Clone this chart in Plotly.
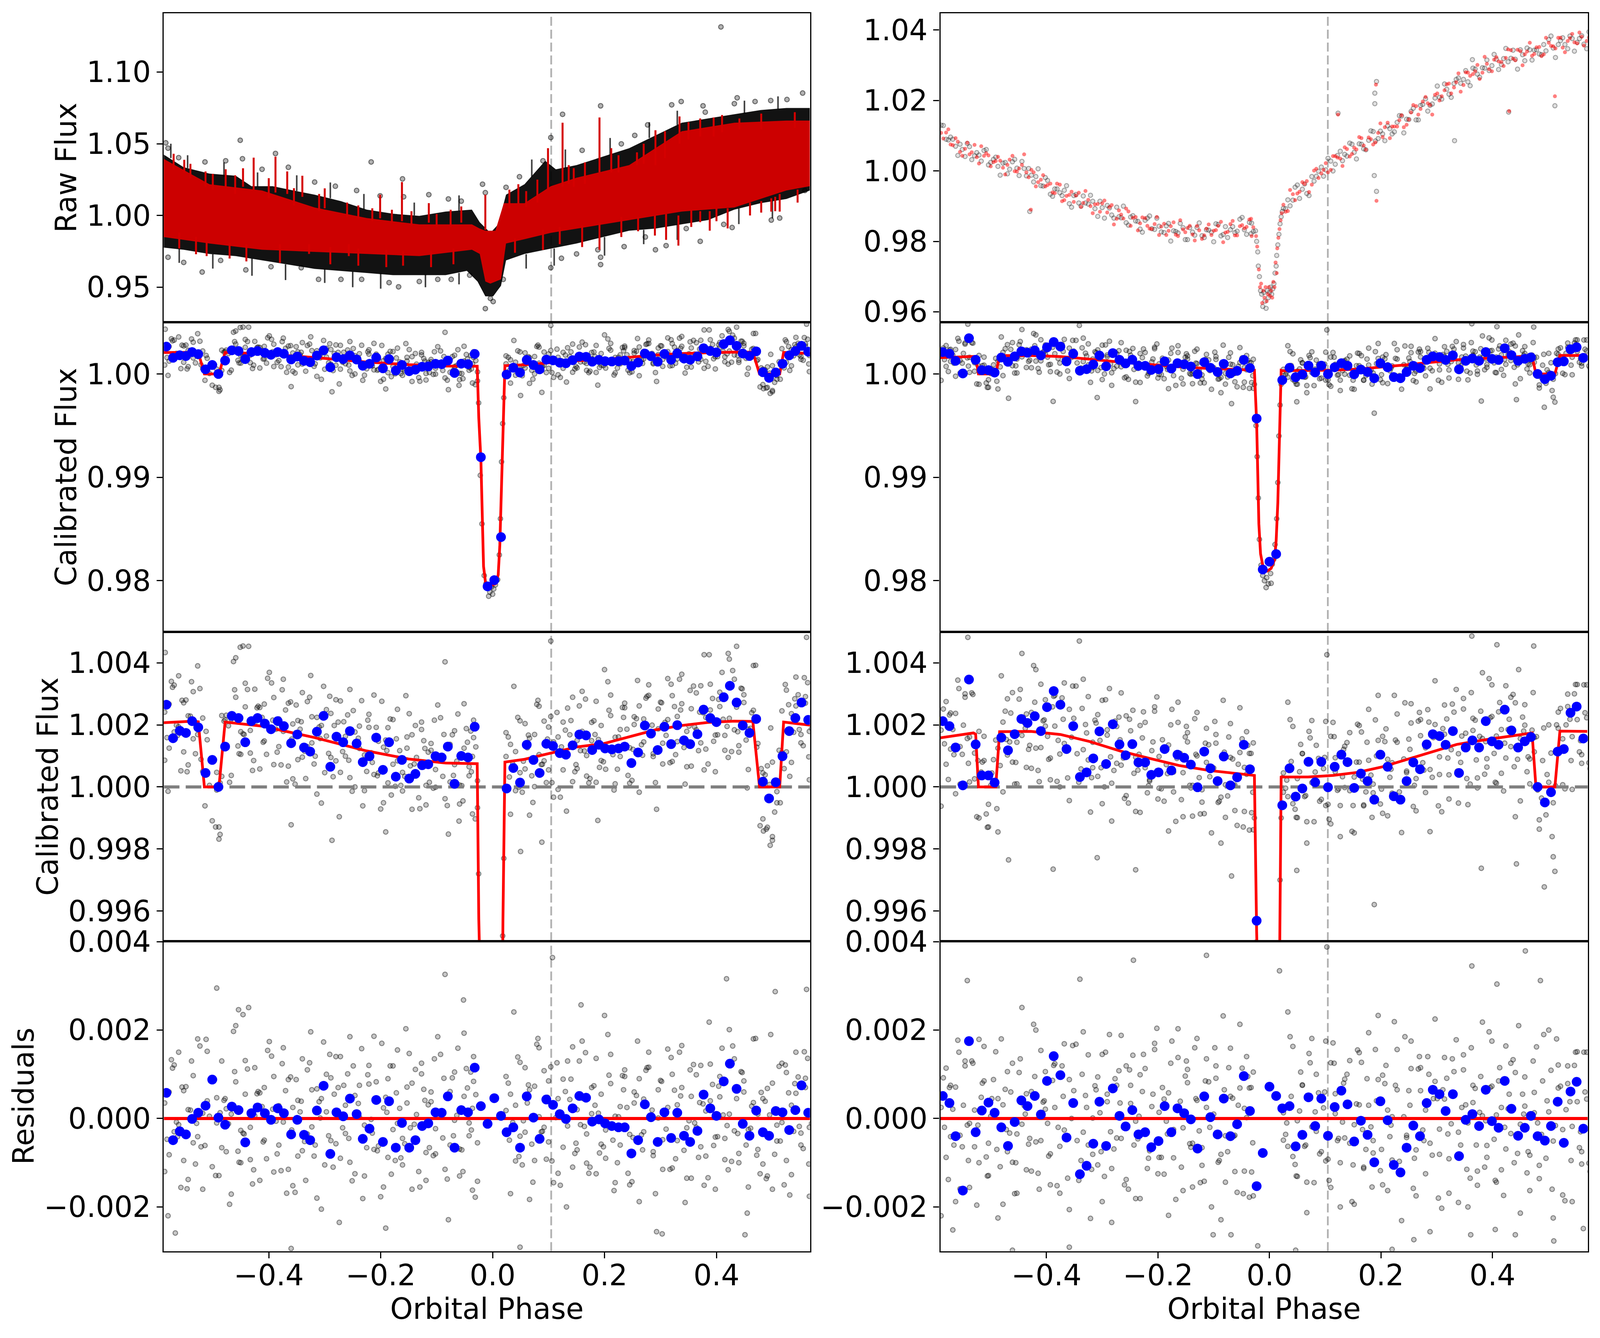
import numpy as np
import plotly.graph_objects as go

# ======== values ======== #
# phases are stored in thousandths, fluxes as (flux - 1) in units of 1e-5,
# residuals in units of 1e-5

# ---- top left: raw flux (dense band + red trace + outliers) ----
band_top_phase = [-588, -552, -506, -459, -431, -393, -356, -318, -271, -225, -178, -131, -84, -37, -23, -4, 10, 24, 57, 94, 113, 150, 197, 244, 291, 338, 385, 432, 479, 525, 567]
band_top_flux = [4250, 3360, 2920, 2770, 2040, 2040, 1740, 1450, 1000, 410, 120, -30, 270, 410, -470, -1210, -620, 1450, 2180, 3810, 3220, 3510, 4100, 4690, 5580, 6460, 6760, 7050, 7350, 7490, 7490]
band_bot_phase = [-588, -552, -506, -459, -412, -365, -318, -271, -225, -178, -131, -84, -46, -27, -13, 1, 15, 24, 57, 94, 150, 197, 244, 291, 338, 385, 432, 479, 525, 567]
band_bot_flux = [-2240, -2390, -2680, -2830, -3130, -3420, -3720, -3860, -4010, -4160, -4160, -4160, -3860, -4600, -5630, -5630, -4900, -3130, -2680, -2390, -1950, -1500, -1060, -910, -620, -320, 410, 860, 1150, 1740]

red_top_phase = [-588, -506, -412, -318, -225, -131, -37, -23, -13, 5, 20, 57, 104, 150, 244, 338, 432, 525, 567]
red_top_flux = [3950, 2180, 1740, 560, -180, -620, -620, -910, -1060, -1060, 860, 860, 2040, 2630, 3510, 5870, 6460, 6610, 6610]
red_bot_phase = [-588, -506, -412, -318, -225, -131, -37, -23, -13, -4, 15, 24, 57, 104, 150, 244, 338, 432, 525, 567]
red_bot_flux = [-1500, -1950, -2390, -2540, -2680, -2830, -2390, -2680, -4600, -4750, -4450, -1950, -1650, -1210, -910, -320, 270, 560, 1740, 2040]

spike_phase = [-551, -513, -477, -446, -427, -388, -367, -340, -300, -201, -162, -114, -56, -13, 46, 99, 125, 136, 191, 212, 258, 291, 308, 334, 371, 395, 441,
               191, 332, 388, 498, 513, 371, -511, -257, -328,
               -570, -540, -500, -460, -400, -355, -310, -260, -240, -215, -180, -145, -100, -75, 30, 60, 80, 145, 165, 225, 270, 350, 410, 480, 540,
               -560, -530, -470, -440, -380, -290, -240, -190, -160, -110, -70, 40, 90, 120, 160, 230, 260, 290, 310, 355, 400, 420, 460, 480, 505, 545]
spike_from = [3000, 2000, 2000, 2000, 1800, 1600, 1500, 1300, 500, -200, -400, -500, -500, -1000, 800, 1800, 2000, 2200, 3000, 3000, 3500, 3500, 4000, 5000, 5500, 5500, 6000,
              -500, 0, 300, 1200, 1500, 300, -1800, -2000, -2000,
              3200, 2600, 1800, 1500, 1200, 700, 300, -100, -200, -400, -500, -700, -800, -800, 500, 600, 900, 2000, 2200, 3000, 3600, 5300, 5800, 6000, 6100,
              -1200, -1500, -1900, -2000, -2000, -2200, -2300, -2400, -2500, -2500, -2300, -1600, -1000, -800, -700, -100, -100, 0, 100, 400, 500, 500, 900, 1000, 1300, 1800]
spike_to = [3880, 3070, 3220, 3290, 4030, 4100, 3070, 2770, 1890, 1450, 2330, 860, 630, 1450, 2180, 4690, 6460, 3510, 6830, 4690, 4400, 5940, 5870, 6900, 6760, 6830, 6760,
            -2390, -2100, -1060, 270, 270, -470, -2830, -2830, -2680,
            4300, 3600, 2900, 2800, 2600, 1900, 1500, 900, 700, 500, 400, 300, 100, 400, 1800, 1700, 2500, 3300, 3700, 4200, 5000, 6500, 7000, 7100, 7200,
            -2300, -2700, -3000, -3200, -3300, -3400, -3500, -3600, -3500, -3600, -3400, -2600, -2400, -2000, -2200, -1500, -1100, -1400, -1700, -800, -400, -900, 0, 200, 300, 900]

edge_phase = [-575, -545, -480, -420, -350, -290, -230, -140, -60, 70, 130, 210, 280, 330, 450, 510,
              -560, -500, -430, -370, -300, -250, -200, -120, -60, 60, 110, 200, 270, 330, 440, 500]
edge_from = [4000, 3300, 2700, 2000, 1700, 1200, 400, 0, 300, 2700, 3300, 4200, 5400, 6300, 7100, 7400,
             -2300, -2700, -3000, -3400, -3700, -3900, -4000, -4100, -4000, -2700, -2300, -1500, -1000, -600, 500, 1000]
edge_to = [5000, 4200, 3700, 3000, 2800, 2300, 1500, 900, 1400, 3900, 4600, 5400, 6500, 7300, 8000, 8300,
           -3300, -3700, -4200, -4500, -4700, -5000, -5100, -5000, -4800, -3700, -3500, -2800, -2000, -1700, -600, -200]

raw_out_phase = [408, -451, -217, -161, -18, -13, 104, 125, 193, 254, 320, 337, 376, 437, 469, 554, 526, 497, 432, 380, 277, 230, 160, 90, 48, 24, -56, -79, -114, -159,
                 -201, -243, -281, -318, -365, -388, -412, -447, -477, -514, -561, -584, -580,
                 -580, -552, -519, -486, -441, -396, -342, -311, -271, -234, -185, -168, -131, -98, -74, -41, -13, 1, -4, 19, 104, 123, 193, 193, 235, 291, 310, 371,
                 428, 498, 513, 558, 413, 346, 273, 188, 150]
raw_out_flux = [13140, 5240, 3730, 2550, 2180, 1590, 5430, 7050, 7640, 5580, 7710, 7940, 7640, 8200, 7940, 8530, 8080, 8010, 7790, 7200, 6310, 4990, 4540, 3810, 2700, 1960, 1000, 1150, 1450, 1300,
                1370, 1740, 2040, 2330, 3360, 4320, 3220, 3950, 3810, 3730, 4030, 5060, 4690,
                -2910, -3270, -3940, -3130, -3790, -3570, -3640, -4450, -4450, -4450, -4680, -4970, -4600, -4450, -4450, -4160, -6490, -6000, -5780, -4450, -3640, -2980, -3420, -2910, -2170, -2390, -2100, -1800,
                -840, -320, -180, 1740, -620, -910, -1500, -2390, -2680]

# ---- top right: raw flux, two point sets ----
grid_R = [-589, -580, -572, -563, -555, -546, -538, -529, -521, -512, -504, -495, -487, -478, -470, -461, -453, -444, -436, -427,
          -419, -410, -402, -393, -385, -376, -368, -359, -351, -342, -334, -325, -317, -308, -300, -291, -283, -274, -266, -257,
          -249, -240, -232, -223, -215, -206, -198, -189, -181, -172, -164, -155, -147, -138, -130, -121, -113, -104, -96, -87,
          -79, -70, -62, -53, -45, -36, -29,
          25, 33, 42, 50, 59, 67, 76, 84, 93, 101, 110, 118, 127, 135, 144, 152, 161, 169, 178, 186,
          195, 203, 212, 220, 229, 237, 246, 254, 263, 271, 280, 288, 297, 305, 314, 322, 331, 339, 348, 356,
          365, 373, 382, 390, 399, 407, 416, 424, 433, 441, 450, 458, 467, 475, 484, 492, 501, 509, 518, 526,
          535, 543, 552, 560, 569]
grid_R2 = [-585, -576, -568, -559, -551, -542, -534, -525, -517, -508, -500, -491, -483, -474, -466, -457, -449, -440, -432, -423,
           -415, -406, -398, -389, -381, -372, -364, -355, -347, -338, -330, -321, -313, -304, -296, -287, -279, -270, -262, -253,
           -245, -236, -228, -219, -211, -202, -194, -185, -177, -168, -160, -151, -143, -134, -126, -117, -109, -100, -92, -83,
           -75, -66, -58, -49, -41, -32, -33,
           29, 37, 46, 54, 63, 71, 80, 88, 97, 105, 114, 122, 131, 139, 148, 156, 165, 173, 182, 190,
           199, 207, 216, 224, 233, 241, 250, 258, 267, 275, 284, 292, 301, 309, 318, 326, 335, 343, 352, 360,
           369, 377, 386, 394, 403, 411, 420, 428, 437, 445, 454, 462, 471, 479, 488, 496, 505, 513, 522, 530,
           539, 547, 556, 564, 573]
grid_R3 = [-583, -574, -566, -557, -549, -540, -532, -523, -515, -506, -498, -489, -481, -472, -464, -455, -447, -438, -430, -421,
           -413, -404, -396, -387, -379, -370, -362, -353, -345, -336, -328, -319, -311, -302, -294, -285, -277, -268, -260, -251,
           -243, -234, -226, -217, -209, -200, -192, -183, -175, -166, -158, -149, -141, -132, -124, -115, -107, -98, -90, -81,
           -73, -64, -56, -47, -39, -30, -41,
           31, 39, 48, 56, 65, 73, 82, 90, 99, 107, 116, 124, 133, 141, 150, 158, 167, 175, 184, 192,
           201, 209, 218, 226, 235, 243, 252, 260, 269, 277, 286, 294, 303, 311, 320, 328, 337, 345, 354, 362,
           371, 379, 388, 396, 405, 413, 422, 430, 439, 447, 456, 464, 473, 481, 490, 498, 507, 515, 524, 532,
           541, 549, 558, 566, 575]
raw_R_grey = [1300, 900, 960, 700, 760, 410, 690, 430, 450, 580, 170, 330, 130, 220, -80, 260, 80, 270, -140, -120,
              -160, -420, -190, -660, -510, -620, -550, -930, -700, -910, -710, -940, -860, -1290, -1040, -980, -1250, -1030, -1330, -1470,
              -1310, -1420, -1650, -1400, -1280, -1660, -1570, -1750, -1490, -1700, -1760, -1610, -1950, -1735, -1605, -1840, -1670, -1740, -1500, -1845,
              -1580, -1670, -1750, -1370, -1670, -1460, -1720,
              -1060, -820, -830, -400, -520, -640, -160, -150, 110, 30, 280, 190, 560, 470, 790, 530, 770, 630, 870, 1120,
              920, 1050, 1280, 1050, 1380, 1560, 1470, 1690, 1450, 1860, 2050, 1860, 2070, 2090, 2470, 2180, 2480, 2640, 2600, 2530,
              2920, 2750, 2930, 3150, 2990, 3170, 3020, 3480, 3200, 3170, 3440, 3130, 3440, 3430, 3320, 3590, 3730, 3490, 3590, 3780,
              3470, 3760, 3650, 3840, 3470]
raw_R_red = [1080, 1090, 750, 930, 540, 630, 470, 740, 210, 430, 440, 250, 400, 90, 170, 430, -20, 170, -40, 30,
             -440, -250, -440, -360, -630, -390, -830, -680, -880, -620, -910, -820, -1200, -940, -920, -1180, -970, -1360, -1240, -1070,
             -1560, -1310, -1490, -1340, -1640, -1510, -1820, -1500, -1700, -1460, -1850, -1660, -1620, -1805, -1565, -1930, -1640, -1820, -1680, -1445,
             -1750, -1510, -1830, -1570, -1630, -1380, -1600,
             -960, -1140, -660, -640, -320, -290, -390, 60, -70, 220, 30, 420, 350, 670, 410, 660, 960, 720, 950, 750,
             1080, 960, 1370, 1260, 1260, 1580, 1310, 1660, 1840, 1760, 2100, 1870, 2160, 2000, 2290, 2480, 2370, 2770, 2440, 2790,
             2750, 3010, 2790, 3040, 2830, 3230, 3090, 3210, 3430, 3140, 3400, 3310, 3640, 3320, 3520, 3310, 3640, 3540, 3780, 3500,
             3690, 3890, 3620, 3810, 3690]
raw_R_grey2 = [1290, 880, 900, 440, 610, 780, 320, 520, 280, 610, 240, 390, -120, 240, 50, 330, -130, 70, 70, -310,
               60, -430, -270, -720, -510, -700, -420, -1030, -670, -1000, -910, -690, -1070, -860, -1340, -1050, -1340, -1300, -1000, -1540,
               -1270, -1430, -1740, -1340, -1640, -1340, -1730, -1560, -1990, -1720, -1490, -1950, -1610, -1825, -1475, -1890, -1680, -2010, -1520, -1805,
               -1890, -1580, -1710, -1320, -1800, -1480, -1780,
               -1070, -990, -460, -780, -370, -700, -290, -10, -150, 360, 0, 440, 290, 420, 760, 340, 760, 600, 1140, 850,
               1130, 860, 1200, 1110, 1570, 1080, 1460, 1780, 1450, 1890, 1700, 1900, 2410, 2040, 2320, 2090, 2600, 2490, 2850, 2420,
               2890, 2660, 2920, 2850, 3310, 2880, 3190, 3100, 3430, 2890, 3300, 3490, 3150, 3440, 3300, 3410, 3830, 3220, 3700, 3590,
               3830, 3400, 3760, 3600, 3950]
raw_R_red2 = [920, 1180, 730, 830, 430, 800, 530, 390, 700, 500, 130, 280, 290, -100, 320, -10, 70, 470, -180, -40,
              -320, -120, -400, -610, -360, -860, -710, -590, -700, -1020, -570, -1000, -950, -1160, -840, -1030, -1520, -1120, -1350, -1150,
              -1330, -1690, -1320, -1560, -1650, -1310, -1580, -1820, -1570, -1810, -1400, -1740, -1560, -1975, -1685, -1830, -1520, -1700, -1560, -2025,
              -1730, -1420, -1830, -1540, -1590, -1850, -1360,
              -1160, -540, -830, -590, -370, -600, 10, -200, 30, -40, 420, 380, 140, 620, 480, 610, 930, 600, 900, 810,
              1350, 1240, 930, 1260, 1440, 1240, 1460, 1870, 1600, 1970, 1920, 1600, 2200, 2120, 2460, 2200, 2520, 2250, 2800, 2700,
              2830, 2610, 3240, 2890, 3160, 3110, 2980, 3450, 3190, 3440, 3000, 3390, 3270, 3510, 3260, 3780, 3550, 3480, 3780, 3370,
              3770, 3650, 3930, 3560, 3790]
raw_R_grey_x_phase = [-25, -23, -21, -20, -18, -16, -14, -12, -10, -8, -6, -4, -2, 0, 2, 4, 6, 8, 10, 12, 13, 15, 17, 19, 21, 23,
                      192, 189, 189, 192, 188, 123, -430, 429, 512, 332, 364]
raw_R_grey_x_flux = [-1700, -2000, -2300, -2700, -3000, -3400, -3500, -3850, -3450, -3700, -3900, -3400, -3600, -3450, -3300, -3500, -3350, -3200, -2900, -2700, -2400, -2100, -1800, -1500, -1300, -1150,
                     2540, 2210, 1910, -580, -130, 1640, -1150, 1670, 1850, 860, 3160]
raw_R_red_x_phase = [-24, -22, -19, -17, -15, -13, -11, -9, -7, -5, -3, -1, 1, 3, 5, 7, 9, 11, 13, 14, 16, 18, 20, 22,
                     191, 192, 123, -428, 512, 430]
raw_R_red_x_flux = [-1850, -2150, -2800, -3300, -3200, -3750, -3400, -3600, -3300, -3700, -3500, -3300, -3550, -3400, -3600, -3150, -3300, -2600, -2900, -2200, -1900, -1650, -1400, -1200,
                    2450, -850, 1600, -1100, 2120, 1700]

# ---- calibrated data, left column ----
grid_L = [-586, -578, -569, -561, -552, -544, -535, -527, -518, -510, -501, -493, -484, -476, -467, -459, -450, -442, -433, -425,
          -416, -408, -399, -391, -382, -374, -365, -357, -348, -340, -331, -323, -314, -306, -297, -289, -280, -272, -263, -255,
          -246, -238, -229, -221, -212, -204, -195, -187, -178, -170, -161, -153, -144, -136, -127, -119, -110, -102, -93, -85,
          -76, -68, -59, -51, -42, -34, -27,
          24, 32, 41, 49, 58, 66, 75, 83, 92, 100, 109, 117, 126, 134, 143, 151, 160, 168, 177, 185,
          194, 202, 211, 219, 228, 236, 245, 253, 262, 270, 279, 287, 296, 304, 313, 321, 330, 338, 347, 355,
          364, 372, 381, 389, 398, 406, 415, 423, 432, 440, 449, 457, 466, 474, 483, 491, 500, 508, 517, 525,
          534, 542, 551, 559, 566]
grid_L2 = [-582, -574, -565, -557, -548, -540, -531, -523, -514, -506, -497, -489, -480, -472, -463, -455, -446, -438, -429, -421,
           -412, -404, -395, -387, -378, -370, -361, -353, -344, -336, -327, -319, -310, -302, -293, -285, -276, -268, -259, -251,
           -242, -234, -225, -217, -208, -200, -191, -183, -174, -166, -157, -149, -140, -132, -123, -115, -106, -98, -89, -81,
           -72, -64, -55, -47, -38, -30, -36,
           28, 36, 45, 53, 62, 70, 79, 87, 96, 104, 113, 121, 130, 138, 147, 155, 164, 172, 181, 189,
           198, 206, 215, 223, 232, 240, 249, 257, 266, 274, 283, 291, 300, 308, 317, 325, 334, 342, 351, 359,
           368, 376, 385, 393, 402, 410, 419, 427, 436, 444, 453, 461, 470, 478, 487, 495, 504, 512, 521, 529,
           538, 546, 555, 563, 570]
grid_L3 = [-580, -572, -563, -555, -546, -538, -529, -521, -512, -504, -495, -487, -478, -470, -461, -453, -444, -436, -427, -419,
           -410, -402, -393, -385, -376, -368, -359, -351, -342, -334, -325, -317, -308, -300, -291, -283, -274, -266, -257, -249,
           -240, -232, -223, -215, -206, -198, -189, -181, -172, -164, -155, -147, -138, -130, -121, -113, -104, -96, -87, -79,
           -70, -62, -53, -45, -36, -31, -39,
           30, 38, 47, 55, 64, 72, 81, 89, 98, 106, 115, 123, 132, 140, 149, 157, 166, 174, 183, 191,
           200, 208, 217, 225, 234, 242, 251, 259, 268, 276, 285, 293, 302, 310, 319, 327, 336, 344, 353, 361,
           370, 378, 387, 395, 404, 412, 421, 429, 438, 446, 455, 463, 472, 480, 489, 497, 506, 514, 523, 531,
           540, 548, 557, 565, 572]
cal_L_a = [241, 125, 328, 194, 271, 71, 307, 169, 222, 152, -109, 47, 34, 231, 37, 289, 178, 334, 109, 206,
           256, 148, 369, 72, 219, 179, 270, 26, 214, 96, 275, 142, 224, -52, 164, 237, 84, 277, 99, 30,
           177, 124, -12, 192, 296, 45, 128, 13, 217, 84, 47, 161, -72, 95, 185, 5, 118, 56, 223, -38,
           137, 72, 6, 268, 36, 159, -67,
           98, 137, -12, 213, 58, -91, 169, 104, 212, 55, 145, -8, 209, 107, 289, 59, 179, 35, 149, 276,
           85, 121, 230, 10, 185, 255, 126, 226, -17, 219, 295, 98, 187, 141, 349, 82, 227, 268, 179, 67,
           303, 142, 224, 331, 167, 259, 118, 412, 184, 133, 297, 56, 247, 220, -103, 68, -160, -51, 111, 312,
           79, 261, 169, 291, 23]
cal_L_b = [86, 267, 177, 358, 113, 229, 155, 390, 50, 40, 85, -10, 230, 134, 218, 416, 105, 258, 182, 315,
           58, 267, 190, 288, 130, 347, 67, 203, 88, 304, 130, 226, -23, 198, 249, 95, 281, 47, 163, 314,
           0, 196, 103, 234, 40, 147, -51, 191, 73, 250, -13, 125, 168, 41, 209, -58, 140, -1, 93, 403,
           16, 181, -55, 125, 65, 215, 20,
           175, -88, 114, 46, 204, 157, 1, 260, 84, 193, -33, 161, 55, 254, 17, 150, 308, 101, 208, 15,
           198, 57, 296, 160, 98, 270, 12, 201, 261, 145, 329, 107, 251, 74, 217, 294, 146, 363, 65, 252,
           184, 326, 122, 248, 49, 305, 166, 221, 347, 112, 272, 186, 391, 140, 45, -130, 80, -15, 245, 113,
           236, 354, 142, 270, 179]
cal_L_c = [159, 340, 199, 52, 280, 228, 107, 317, -61, 5, 88, -129, 212, 197, 404, 132, 171, 314, 53, 255,
           224, 105, 335, 186, 71, 248, 274, 9, 186, 115, 289, 74, 193, 324, 108, 33, 209, 114, 232, -14,
           132, 278, 50, 110, 192, -71, 151, 219, 2, 117, 34, 236, 74, -35, 149, 112, -4, 264, 34, -60,
           168, 83, 4, 188, 49, 129, -87,
           161, 74, 224, -17, 126, 36, 266, 72, 14, 227, 116, -33, 183, 168, 49, 261, 116, 13, 213, 153,
           81, 339, 104, 57, 256, 186, 21, 220, 136, 286, 178, 14, 273, 208, 78, 259, 347, 127, 196, 325,
           117, 239, 74, 285, 168, 369, 195, 114, 257, 318, 151, 189, 392, -125, 39, 8, -81, 118, 59, 265,
           176, 297, 133, 336, 188]
cal_L_d = [-14, 321, 166, 279, 49, 339, 199, 89, 179, 85, -129, 13, 216, 15, 313, 107, 169, 453, 85, 260,
           144, 350, 215, 112, 313, 16, 154, 264, 210, 27, 359, 99, 156, 46, 292, 198, -96, 210, 86, 246,
           157, -61, 215, 79, 36, 276, 117, -26, 155, 5, 294, 68, 198, -70, 124, 15, 215, 84, 169, -152,
           37, 235, -45, 144, 98, -103, 180,
           32, 324, -1, 83, 167, -50, 279, 73, 154, 14, 240, 129, -78, 214, 72, 117, 283, 27, 169, 63,
           378, 247, -10, 161, 224, 37, 121, 343, 102, 292, 199, -72, 271, 166, 331, 104, 248, 9, 311, 193,
           241, 55, 426, 147, 282, 218, 95, 375, 178, 316, -3, 239, 128, 59, -136, 190, 15, -51, 330, 34,
           284, 185, 352, 97, 243]
cal_L_x_phase = [-451, -446, -585, 104, 436, 561, 421, 378, -489, -487, -287, -191, 496, 500, 484, 88, 50, -360, -60, 188,
                 -25, -22, -19, -15, -12, -9, -7, -5, -2, 0, 2, 5, 9, 12, 14, 16, 18, 20]
cal_L_x_flux = [450, 454, 433, 470, 453, 482, 430, 426, -168, -153, -172, -145, -188, -172, -142, -178, -208, -122, -110, -108,
                -280, -980, -1450, -1950, -2030, -2060, -2150, -2110, -2060, -2130, -2080, -2040, -1990, -1750, -1400, -850, -480, -230]

res_L_a = [35, -82, 121, -14, 63, -138, 97, -41, 12, 152, -109, 47, -66, 22, -171, 83, -27, 131, -93, 6,
           58, -49, 174, -121, 29, -8, 88, -152, 41, -73, 110, -19, 67, -205, 15, 92, -57, 140, -34, -99,
           52, 3, -130, 78, 186, -62, 24, -88, 119, -11, -45, 71, -160, 9, 101, -77, 38, -23, 145, -115,
           61, -4, -69, 193, -39, 84, -142,
           18, 55, -96, 127, -31, -183, 73, 4, 108, -53, 33, -124, 89, -17, 162, -71, 46, -101, 11, 136,
           -58, -26, 79, -145, 27, 95, -36, 60, -188, 44, 116, -84, 1, -48, 157, -112, 31, 70, -21, -135,
           99, -64, 17, 123, -42, 49, -93, 201, -28, -79, 85, -155, 36, 10, -103, 68, -160, -51, -9, 104,
           -127, 57, -33, 91, -176]
res_L_b = [-120, 60, -30, 150, -95, 20, -55, 180, -160, 40, 85, -10, 130, -75, 10, 210, -100, 55, -20, 115,
           -140, 70, -5, 95, -60, 160, -115, 25, -85, 135, -35, 65, -180, 45, 100, -50, 140, -90, 30, 185,
           -125, 75, -15, 120, -70, 40, -155, 90, -25, 155, -105, 35, 80, -45, 125, -140, 60, -80, 15, 326,
           -60, 105, -130, 50, -10, 140, -55,
           95, -170, 30, -40, 115, 65, -95, 160, -20, 85, -145, 45, -65, 130, -110, 20, 175, -35, 70, -125,
           55, -90, 145, 5, -60, 110, -150, 35, 90, -30, 150, -75, 65, -115, 25, 100, -50, 165, -135, 50,
           -20, 120, -85, 40, -160, 95, -45, 10, 135, -100, 60, -25, 180, -70, 45, -130, 80, -15, 125, -95,
           30, 150, -60, 70, -20]
res_L_c = [-47, 133, -8, -156, 72, 19, -103, 164, -61, 5, 88, -129, 41, -12, 197, -74, -33, 112, -148, 56,
           27, -91, 141, -6, -118, 63, 94, -167, 15, -52, 126, -85, 38, 173, -39, -110, 70, -21, 101, -141,
           9, 158, -66, -2, 83, -177, 48, 119, -95, 23, -57, 147, -13, -120, 66, 31, -84, 185, -44, -137,
           92, 7, -71, 113, -26, 54, -162,
           80, -9, 139, -105, 35, -58, 168, -30, -92, 117, 2, -151, 61, 43, -79, 130, -18, -124, 74, 12,
           -64, 190, -49, -100, 97, 25, -143, 52, -37, 109, -2, -170, 86, 18, -115, 64, 150, -72, -5, 122,
           -88, 33, -134, 77, -41, 159, -16, -97, 45, 106, -60, -22, 181, -125, 39, 8, -81, 118, -150, 58,
           -29, 94, -68, 136, -11]
res_L_d = [-220, 114, -41, 71, -159, 130, -11, -64, 179, 85, -129, 13, 45, -194, 106, -99, -35, 251, -116, 61,
           -53, 154, 21, -80, 124, -169, -26, 88, 39, -140, 196, -60, 1, -105, 145, 55, -235, 75, -45, 119,
           34, -181, 99, -33, -73, 170, 14, -126, 58, -89, 203, -21, 111, -155, 41, -66, 135, 5, 91, -229,
           -39, 159, -120, 69, 23, -178, 105,
           -49, 241, -86, -5, 76, -144, 181, -29, 48, -96, 126, 11, -200, 89, -56, -14, 149, -110, 30, -78,
           233, 98, -163, 4, 65, -124, -43, 175, -71, 115, 19, -256, 84, -24, 138, -91, 51, -190, 110, -10,
           36, -151, 218, -61, 73, 8, -116, 164, -34, 104, -214, 28, -83, 59, -136, 190, 15, -51, 121, -173,
           79, -18, 151, -103, 44]
res_L_x_phase = [-567, -360, -191, 49, 303, 451, -493, 107, 505, 418, 561, 158, -52, -454, -446]
res_L_x_val = [-259, -294, -248, -291, -261, -263, 295, 364, 287, 316, 292, 257, 268, 246, 235]

bin_L_phase = [-583, -571, -559, -548, -537, -526, -513, -501, -490, -478, -466, -454, -442, -431, -420, -407, -396, -384, -373, -360,
               -349, -337, -326, -314, -302, -290, -279, -267, -255, -243, -232, -220, -208, -196, -185, -173, -162, -149, -138, -126,
               -115, -102, -91, -80, -68, -56, -44, -32, -21, -9, 3, 15,
               25, 37, 49, 61, 73, 84, 96, 108, 120, 131, 143, 155, 167, 178, 190, 201, 213, 225, 236, 248,
               260, 272, 283, 295, 307, 319, 330, 342, 353, 366, 377, 389, 400, 413, 424, 436, 447, 459, 471, 483,
               494, 506, 518, 530, 541, 552, 564]
bin_L_flux = [265, 157, 181, 174, 212, 192, 45, 87, 0, 130, 229, 222, 144, 212, 222, 204, 186, 212, 196, 141,
              169, 127, 114, 178, 229, 65, 162, 144, 180, 140, 80, 99, 159, 55, 144, 33, 87, 27, 42, 70,
              73, 99, 95, 130, 10, 100, 95, 194, -805, -2055, -1994, -1578,
              -5, 61, 14, 136, 87, 45, 139, 132, 109, 104, 134, 169, 166, 119, 136, 124, 121, 124, 130, 77,
              111, 198, 172, 119, 194, 138, 199, 150, 138, 170, 249, 222, 209, 289, 326, 272, 198, 174, 219, 17,
              -37, 15, 99, 180, 222, 272, 216]
bin_L_res = [58, -49, -29, -36, -1, 13, 29, 88, 2, -14, 27, 19, -54, 12, 25, 12, -3, 23, 12, -36,
             -3, -37, -49, 18, 74, -80, 14, 5, 45, 10, -46, -23, 42, -53, 39, -66, -10, -66, -49, -17,
             -11, 14, 13, 50, -66, 19, 14, 115, 28, -12, 46, 6,
             -31, -20, -66, 50, 2, -46, 43, 31, 10, -1, 23, 51, 47, -7, -2, -11, -17, -20, -20, -79,
             -49, 32, 3, -53, 14, -44, 13, -39, -53, -28, 54, 23, 6, 84, 124, 67, -12, -39, 18, -31,
             -39, 17, 14, -26, 19, 75, 13]

model_L_phase = [-588, -534, -526, -515, -489, -478, -412, -318, -225, -150, -84, -27.5, -24.7, -20.9, -18.1, -16.2, -12.5, -4, 5.3, 10,
                 12.9, 15.7, 18.5, 21.3, 22, 57, 104, 151, 197, 245, 291, 338, 385, 432, 465, 477, 513, 520, 568]
model_L_flux = [207, 212, 210, 0, 0, 209, 196, 159, 116, 90, 77, 75, -426, -836, -1451, -1861, -2025, -2049, -2029, -1943,
                -1656, -1041, -426, 75, 80, 89, 110, 129, 139, 162, 184, 198, 208, 212, 211, 0, 0, 209, 199]

# ---- calibrated data, right column ----
cal_R_a = [183, 73, 238, -22, 130, 289, 16, 109, -100, 163, -56, 88, -145, 209, 103, 304, 10, 166, 235, 60,
           378, 127, 281, 23, 196, 106, 335, -44, 221, 30, 120, 291, 62, 233, -54, 167, 12, 76, 303, -28,
           181, 96, -82, 208, 23, 244, -4, 124, -142, 48, 208, -96, 145, 5, 240, -49, 79, -148, 169, -33,
           -98, 95, 6, 255, -79, 108, -138,
           45, -31, 195, -99, 107, -181, 14, 134, -40, 211, -119, 94, -60, -2, 175, -148, 80, -61, 250, 9,
           150, -85, 89, -20, 235, -147, 51, 206, -77, 165, -18, 56, 342, 40, 170, -39, 241, 107, 285, -57,
           221, 29, 156, 64, 329, 12, 185, 93, 289, -96, 156, 265, 10, 113, -106, -50, 200, -225, 189, 155,
           299, -8, 217, 104, 329]
cal_R_b = [-62, 275, 122, 237, 9, 300, 161, 26, 179, 85, -129, 13, 125, -16, 284, 80, 144, 430, 63, 240,
           125, 331, 196, 93, 295, 0, 140, 250, 197, 15, 347, 87, 144, 34, 279, 184, -110, 195, 70, 229,
           140, -79, 198, 62, 19, 258, 98, -46, 135, -16, 273, 46, 175, -94, 100, -9, 189, 57, 141, -181,
           7, 204, -76, 111, 63, -139, 142,
           -17, 273, -54, 27, 108, -112, 214, 5, 83, -60, 163, 49, -160, 131, -12, 32, 198, -58, 86, -19,
           295, 163, -93, 78, 144, -40, 46, 268, 27, 217, 126, -144, 201, 97, 264, 39, 186, -52, 251, 133,
           182, -3, 368, 91, 227, 164, 44, 326, 130, 271, -45, 199, 90, 159, -136, 190, 15, -51, 241, 7,
           259, 162, 330, 76, 223]
cal_R_c = [251, 24, 185, 344, 105, 156, 303, -96, 48, -87, 5, 151, 69, 244, 145, 9, 283, 208, 121, 391,
           53, 213, 163, 258, 18, 287, 123, 160, 325, 58, 201, -81, 215, 150, 0, 317, 53, 225, 93, -52,
           247, 54, 158, -19, 117, 290, -6, 72, 200, -111, 108, 161, 5, 220, 30, -86, 136, 61, -50, 279,
           -29, 90, -124, 155, 41, -83, 108,
           -4, 217, -72, 49, -31, 179, -112, 92, 59, -56, 208, -11, 33, 143, -143, 80, 177, -16, 38, 216,
           -55, 146, 31, 295, -16, 90, 154, -63, 212, 78, 249, 31, 164, -80, 219, 120, 314, 79, 173, 9,
           215, 163, 41, 349, 108, 242, -13, 185, 298, 89, 225, 49, 183, 162, -36, -90, 109, 4, 253, -6,
           218, 300, 113, 329, 78]
cal_R_d = [139, 232, 104, 317, 199, 76, 298, 85, 80, -130, 45, -70, 358, 153, 238, 79, 314, 189, 134, 273,
           17, 216, 89, 292, 150, 218, 29, 325, 107, 253, 174, 30, 206, 62, 281, 97, 212, 152, -37, 218,
           44, 105, 242, 4, 145, -39, 152, 43, 250, 92, -41, 195, -3, 105, -87, 141, 33, 211, -46, 112,
           161, 4, 73, -129, 134, -17, 178,
           22, 82, -98, 137, -28, 158, 48, -46, 95, -104, 162, -6, 121, 78, -60, 202, 25, 144, -98, 100,
           -7, 187, 57, 151, -44, 271, 121, 5, 240, 54, 209, 159, -61, 188, 93, 267, 51, 164, 27, 304,
           87, 244, 146, 223, 15, 272, 141, 218, 65, 378, 180, 97, 304, -10, 85, 40, -160, 200, 125, 200,
           85, 330, 149, 239, 59]
cal_R_x_phase = [-541, -388, -68, -240, 188, 493, 512, 363, 408, 474, -341, -309, -468, 49, 443, 380, 103,
                 -27, -24, -22, -20, -18, -15, -12, -9, -6, -5, -2, 2, 3, 5, 8, 10, 13, 15, 17, 19, 21]
cal_R_x_flux = [482, -265, -287, -267, -379, -322, -272, 486, 458, 454, 470, -228, -235, -269, -248, -262, 426,
                -100, -500, -800, -1200, -1600, -1850, -1950, -2000, -2066, -1970, -2030, -1930, -2025, -1840, -1790, -1650, -1400, -1050, -600, -300, -100]

res_R_a = [25, -88, 75, -188, -38, 119, -156, 19, -100, 163, -56, 88, -225, 31, -75, 125, -169, -13, 56, -119,
           200, -50, 106, -150, 25, -63, 169, -206, 63, -125, -31, 144, -81, 94, -188, 38, -113, -44, 188, -138,
           75, -6, -181, 113, -69, 156, -88, 44, -219, -25, 138, -163, 81, -56, 181, -106, 25, -200, 119, -81,
           -144, 50, -38, 213, -119, 69, -175, 13, -63, 163, -131, 75, -213, -19, 100, -75, 175, -156, 56, -100,
           -44, 131, -194, 31, -113, 194, -50, 88, -150, 19, -94, 156, -231, -38, 113, -175, 63, -125, -56, 225,
           -81, 44, -169, 106, -31, 144, -200, 75, -119, 6, -88, 175, -144, 25, -69, 125, -263, -13, 94, -163,
           13, -106, -50, 200, -225, 69, -25, 119, -188, 38, -75, 150]
res_R_b = [-220, 114, -41, 71, -159, 130, -11, -64, 179, 85, -129, 13, 45, -194, 106, -99, -35, 251, -116, 61,
           -53, 154, 21, -80, 124, -169, -26, 88, 39, -140, 196, -60, 1, -105, 145, 55, -235, 75, -45, 119,
           34, -181, 99, -33, -73, 170, 14, -126, 58, -89, 203, -21, 111, -155, 41, -66, 135, 5, 91, -229,
           -39, 159, -120, 69, 23, -178, 105, -49, 241, -86, -5, 76, -144, 181, -29, 48, -96, 126, 11, -200,
           89, -56, -14, 149, -110, 30, -78, 233, 98, -163, 4, 65, -124, -43, 175, -71, 115, 19, -256, 84,
           -24, 138, -91, 51, -190, 110, -10, 36, -151, 218, -61, 73, 8, -116, 164, -34, 104, -214, 28, -83,
           59, -136, 190, 15, -51, 121, -173, 79, -18, 151, -103, 44]
res_R_c = [92, -138, 21, 177, -64, -15, 130, -196, 48, -87, 5, 151, -109, 66, -33, -170, 104, 29, -58, 213,
           -124, 37, -11, 86, -152, 119, -41, 0, 168, -95, 52, -226, 74, 13, -131, 190, -69, 108, -20, -160,
           143, -46, 61, -113, 27, 204, -88, -6, 125, -183, 39, 96, -57, 160, -28, -142, 83, 10, -99, 232,
           -75, 46, -167, 114, 2, -121, 70, -36, 185, -104, 17, -63, 147, -145, 58, 24, -92, 171, -50, -8,
           100, -188, 33, 127, -70, -19, 156, -118, 79, -41, 219, -97, 4, 63, -158, 112, -26, 140, -83, 45,
           -203, 91, -12, 178, -60, 31, -135, 68, 14, -110, 196, -47, 85, -174, 22, 133, -79, 55, -123, 9,
           162, -36, -90, 109, -16, 73, -186, 38, 120, -66, 150, -101]
res_R_d = [-20, 70, -60, 150, 30, -95, 125, -15, 80, -130, 45, -70, 180, -25, 60, -100, 135, 10, -45, 95,
           -160, 40, -85, 120, -20, 50, -135, 165, -50, 100, 25, -115, 65, -75, 150, -30, 90, 35, -150, 110,
           -60, 5, 145, -90, 55, -125, 70, -35, 175, 20, -110, 130, -65, 45, -145, 85, -20, 160, -95, 65,
           115, -40, 30, -170, 95, -55, 140,
           -10, 50, -130, 105, -60, 126, 15, -80, 60, -140, 125, -45, 80, 35, -105, 155, -25, 90, -155, 40,
           -70, 120, -15, 75, -125, 185, 30, -90, 140, -50, 100, 45, -180, 65, -35, 135, -85, 25, -115, 160,
           -60, 95, -5, 70, -140, 115, -20, 55, -100, 210, 10, -75, 130, -10, 85, 40, -160, 180, -55, 20,
           -95, 150, -30, 60, -120]
res_R_x_phase = [-244, -113, 459, 363, 103, 18, -542, -340, 408, 486, 220, -461, -359, 361, 259, 510, 563, 405, -101, -69, -21, -568, 47]
res_R_x_val = [358, 369, 379, 345, 388, 334, 312, 315, 304, 312, -296, -298, -291, -263, -274, -277, -249, -251, -263, -263, -288, -252, -298]

bin_R_phase = [-586, -574, -563, -550, -539, -527, -516, -504, -493, -481, -469, -457, -445, -434, -421, -410, -399, -387, -375, -364,
               -352, -340, -328, -316, -305, -293, -281, -269, -258, -246, -235, -223, -212, -199, -188, -176, -165, -153, -141, -129,
               -117, -106, -93, -82, -70, -58, -46, -35, -23, -12, 0, 12,
               23, 36, 47, 59, 70, 82, 93, 105, 117, 129, 140, 152, 164, 176, 188, 199, 212, 223, 235, 246,
               258, 270, 282, 293, 305, 316, 329, 340, 352, 364, 376, 388, 399, 411, 422, 434, 446, 458, 469, 481,
               494, 505, 517, 528, 540, 551, 563]
bin_R_flux = [212, 196, 127, 5, 346, 137, 37, 37, 14, 159, 118, 170, 219, 206, 228, 180, 257, 309, 265, 122,
              196, 32, 47, 92, 179, 74, 202, 137, 102, 138, 79, 79, 39, 47, 122, 53, 104, 94, 72, -1,
              114, 60, 19, 98, 5, 31, 136, 57, -431, -1891, -1816, -1742,
              -59, 60, -31, -5, 81, 15, 81, -1, 65, 104, 80, -3, 43, 19, -41, 104, 65, -30, -41, 19,
              79, 57, 137, 170, 164, 136, 180, 45, 127, 150, 127, 212, 147, 136, 249, 182, 127, 147, 161, 0,
              -50, -17, 114, 122, 239, 259, 156]
bin_R_res = [51, 35, -40, -163, 175, -31, 18, 36, 13, -20, -62, -8, 41, 28, 51, 9, 85, 141, 98, -43,
             35, -126, -107, -57, 38, -62, 68, 6, -18, 19, -36, -31, -65, -51, 28, -31, 23, 12, -2, -68,
             50, 3, -36, 45, -40, -13, 96, 17, -153, -78, 72, 51,
             23, 28, -63, -37, 48, -17, 45, -39, 26, 63, 32, -52, -5, -37, -99, 39, -4, -105, -122, -66,
             -16, -40, 35, 65, 55, 17, 55, -85, -3, 10, -17, 65, -6, -21, 85, 22, -39, -21, 6, -40,
             -50, -17, 38, -55, 61, 83, -23]

model_R_phase = [-591, -531, -527, -522, -491, -484, -428, -375, -322, -268, -215, -162, -108, -55, -27, -23, -20, -19, -16, -11,
                 -4, 3, 9, 12, 15, 17, 19, 21, 23, 69, 114, 158, 203, 247, 292, 336, 380, 425, 471, 478, 512, 521, 570]
model_R_flux = [158, 174, 170, 0, 0, 178, 179, 169, 146, 116, 92, 69, 53, 42, 37, -467, -1041, -1451, -1738, -1881,
                -1906, -1881, -1799, -1615, -1246, -836, -426, 35, 32, 32, 37, 47, 65, 89, 114, 137, 150, 162, 174, 0, 0, 180, 179]

# ---- axes ----
X_RANGES = [[-0.5875, 0.5671], [-0.5901, 0.5709]]
PHASE_MARK = 0.1047
Y_RANGES = [[[0.92564, 1.1410], [0.95705, 1.04481]],
            [[0.97505, 1.00501], [0.97505, 1.00501]],
            [[0.99503, 1.004995], [0.99503, 1.004995]],
            [[-0.0030, 0.00401], [-0.0030, 0.00401]]]
Y_TICKS = [[(0.95, 0.05, '.2f'), (0.96, 0.02, '.2f')],
           [(0.98, 0.01, '.2f'), (0.98, 0.01, '.2f')],
           [(0.996, 0.002, '.3f'), (0.996, 0.002, '.3f')],
           [(0.0, 0.002, '.3f'), (0.0, 0.002, '.3f')]]
Y_TITLES = ['Raw Flux', 'Calibrated Flux', 'Calibrated Flux', 'Residuals']
X_DOMS = [[0.10064, 0.50526], [0.58699, 0.99232]]
Y_DOMS = [[0.76041, 0.99249], [0.52786, 0.76041], [0.29560, 0.52786], [0.06287, 0.29560]]

FONT = 'DejaVu Sans'
FS = 74


def ph(v):
    return np.asarray(v, dtype=float) / 1000.0


def fl(v):
    return 1.0 + np.asarray(v, dtype=float) / 1e5


def rs(v):
    return np.asarray(v, dtype=float) / 1e5


def segs(pos, y0, y1):
    xs, ys = [], []
    for p, a, b in zip(pos, y0, y1):
        xs += [p / 1000.0, p / 1000.0, None]
        ys += [1 + a / 1e5, 1 + b / 1e5, None]
    return xs, ys


fig = go.Figure()


def put(tr, k):
    sfx = '' if k == 1 else str(k)
    tr.update(xaxis='x' + sfx, yaxis='y' + sfx, showlegend=False, hoverinfo='skip')
    fig.add_trace(tr)


GREY = dict(size=12, color='rgba(0,0,0,0.22)', line=dict(color='rgba(0,0,0,0.42)', width=2.5))
BLUE = dict(size=25, color='#0000ff')
RED_LINE = dict(color='#ff0000', width=7)

# ---------------- panel 1: raw flux, left ----------------
put(go.Scatter(x=ph(band_top_phase + band_bot_phase[::-1]), y=fl(band_top_flux + band_bot_flux[::-1]),
               mode='lines', fill='toself', fillcolor='rgba(0,0,0,0.93)', line=dict(width=0)), 1)
ex, ey = segs(edge_phase, edge_from, edge_to)
put(go.Scatter(x=ex, y=ey, mode='lines', line=dict(color='rgba(0,0,0,0.75)', width=4)), 1)
put(go.Scatter(x=ph(raw_out_phase), y=fl(raw_out_flux), mode='markers',
               marker=dict(size=12, color='rgba(0,0,0,0.3)', line=dict(color='rgba(0,0,0,0.5)', width=2.5))), 1)
put(go.Scatter(x=ph(red_top_phase + red_bot_phase[::-1]), y=fl(red_top_flux + red_bot_flux[::-1]),
               mode='lines', fill='toself', fillcolor='#cc0000', line=dict(width=0)), 1)
sx, sy = segs(spike_phase, spike_from, spike_to)
put(go.Scatter(x=sx, y=sy, mode='lines', line=dict(color='#d40000', width=5)), 1)

# ---------------- panel 2: raw flux, right ----------------
TR_GREY = dict(size=11, color='rgba(0,0,0,0.12)', line=dict(color='rgba(0,0,0,0.32)', width=2.5))
TR_RED = dict(size=10, color='rgba(255,0,0,0.5)')
put(go.Scatter(x=ph(grid_R + grid_R2 + raw_R_grey_x_phase), y=fl(raw_R_grey + raw_R_grey2 + raw_R_grey_x_flux),
               mode='markers', marker=TR_GREY), 2)
put(go.Scatter(x=ph(grid_R + grid_R2 + raw_R_red_x_phase), y=fl(raw_R_red + raw_R_red2 + raw_R_red_x_flux),
               mode='markers', marker=TR_RED), 2)

# ---------------- rows 2-4: calibrated flux and residuals ----------------
cols = [
    dict(g1=grid_L, g2=grid_L2, g3=grid_L3, a=cal_L_a, b=cal_L_b, c=cal_L_c, d=cal_L_d,
         xp=cal_L_x_phase, xf=cal_L_x_flux, mp=model_L_phase, mf=model_L_flux, bp=bin_L_phase, bf=bin_L_flux,
         ra=res_L_a, rb=res_L_b, rc=res_L_c, rd=res_L_d, rxp=res_L_x_phase, rxv=res_L_x_val, br=bin_L_res),
    dict(g1=grid_R, g2=grid_R2, g3=grid_R3, a=cal_R_a, b=cal_R_b, c=cal_R_c, d=cal_R_d,
         xp=cal_R_x_phase, xf=cal_R_x_flux, mp=model_R_phase, mf=model_R_flux, bp=bin_R_phase, bf=bin_R_flux,
         ra=res_R_a, rb=res_R_b, rc=res_R_c, rd=res_R_d, rxp=res_R_x_phase, rxv=res_R_x_val, br=bin_R_res),
]

for c, d in enumerate(cols):
    gx = ph(d['g1'] + d['g1'] + d['g2'] + d['g3'] + d['xp'])
    gy = fl(d['a'] + d['b'] + d['c'] + d['d'] + d['xf'])
    for r in (1, 2):
        k = 2 * r + c + 1
        put(go.Scatter(x=gx, y=gy, mode='markers', marker=GREY), k)
        if r == 2:
            put(go.Scatter(x=X_RANGES[c], y=[1.0, 1.0], mode='lines',
                           line=dict(color='#808080', width=8, dash='40px,16px')), k)
        put(go.Scatter(x=ph(d['mp']), y=fl(d['mf']), mode='lines', line=RED_LINE), k)
        put(go.Scatter(x=ph(d['bp']), y=fl(d['bf']), mode='markers', marker=BLUE), k)

    k = 6 + c + 1
    put(go.Scatter(x=ph(d['g1'] + d['g1'] + d['g2'] + d['g3'] + d['rxp']),
                   y=rs(d['ra'] + d['rb'] + d['rc'] + d['rd'] + d['rxv']),
                   mode='markers', marker=GREY), k)
    put(go.Scatter(x=X_RANGES[c], y=[0.0, 0.0], mode='lines', line=dict(color='#ff0000', width=8)), k)
    put(go.Scatter(x=ph(d['bp']), y=rs(d['br']), mode='markers', marker=BLUE), k)

# ---------------- axes and layout ----------------
tickfont = dict(family=FONT, size=FS, color='black')
layout = {}
for r in range(4):
    for c in range(2):
        k = 2 * r + c + 1
        sfx = '' if k == 1 else str(k)
        xa = dict(domain=X_DOMS[c], range=X_RANGES[c], anchor='y' + sfx,
                  showline=True, linecolor='black', linewidth=3.3, mirror=True,
                  showgrid=False, zeroline=False, automargin=False,
                  ticks='outside' if r == 3 else '', showticklabels=(r == 3),
                  tick0=0, dtick=0.2, tickformat='.1f', ticklen=15, tickwidth=3.3,
                  tickcolor='black', tickfont=tickfont, ticklabelstandoff=-20)
        if r == 3:
            xa['title'] = dict(text='Orbital Phase', font=tickfont, standoff=13)
        t0, dt, fmt = Y_TICKS[r][c]
        ya = dict(domain=Y_DOMS[r], range=Y_RANGES[r][c], anchor='x' + sfx,
                  showline=True, linecolor='black', linewidth=3.3, mirror=True,
                  showgrid=False, zeroline=False, automargin=False,
                  ticks='outside', tick0=t0, dtick=dt, tickformat=fmt,
                  ticklen=15, tickwidth=3.3, tickcolor='black', tickfont=tickfont,
                  ticklabelstandoff=0)
        if c == 0:
            ya['title'] = dict(text=Y_TITLES[r], font=tickfont, standoff=2)
        layout['xaxis' + sfx] = xa
        layout['yaxis' + sfx] = ya

fig.update_layout(**layout)

# dashed phase marker in every panel
for k in range(1, 9):
    sfx = '' if k == 1 else str(k)
    fig.add_shape(type='line', x0=PHASE_MARK, x1=PHASE_MARK, y0=0, y1=1,
                  xref='x' + sfx, yref='y' + sfx + ' domain', layer='below',
                  line=dict(color='rgba(0,0,0,0.3)', width=4.5, dash='23px,10px'))

fig.update_layout(width=4088, height=3410, margin=dict(l=0, r=0, t=0, b=0),
                  paper_bgcolor='white', plot_bgcolor='white',
                  font=dict(family=FONT, size=FS, color='black'))

fig.write_html("out.html")
